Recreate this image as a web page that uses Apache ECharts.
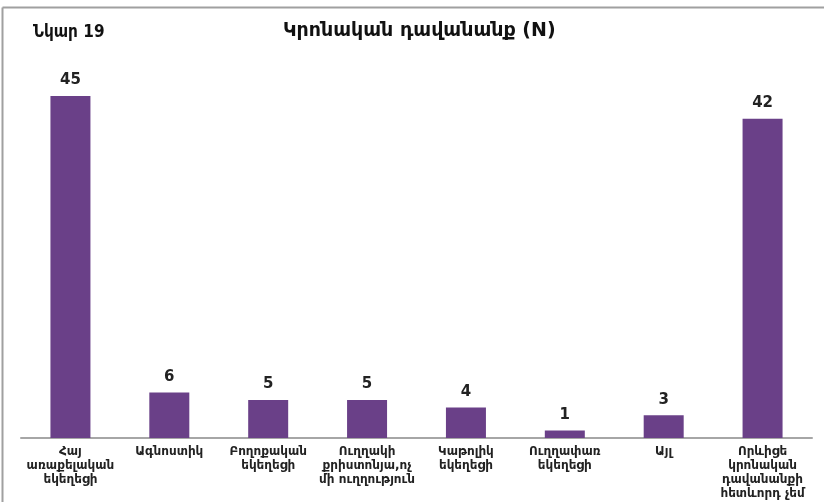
<!DOCTYPE html>
<html><head><meta charset="utf-8">
<script src="https://cdn.jsdelivr.net/npm/echarts@6/dist/echarts.min.js"></script>
<style>html,body{margin:0;padding:0;background:#fff}#c{width:824px;height:502px}</style>
</head><body><div id="c"></div>
<script>
const categories = [
  "Հայ\nառաքելական\nեկեղեցի",
  "Ագնոստիկ",
  "Բողոքական\nեկեղեցի",
  "Ուղղակի\nքրիստոնյա,ոչ\nմի ուղղություն",
  "Կաթոլիկ\nեկեղեցի",
  "Ուղղափառ\nեկեղեցի",
  "Այլ",
  "Որևիցե\nկրոնական\nդավանանքի\nհետևորդ չեմ"
];
const values = [45, 6, 5, 5, 4, 1, 3, 42];
const figureLabel = "Նկար 19";
const chartTitle = "Կրոնական դավանանք (N)";

const fontC = "'DejaVu Sans Condensed', 'DejaVu Sans', sans-serif";
const font = "'DejaVu Sans', sans-serif";
const chart = echarts.init(document.getElementById('c'));
chart.setOption({
  animation: false,
  graphic: [
    {type:'line', shape:{x1:2.5,y1:7.5,x2:824,y2:7.5}, style:{stroke:'#a0a0a0', lineWidth:2}},
    {type:'line', shape:{x1:2.5,y1:7.5,x2:2.5,y2:502}, style:{stroke:'#a0a0a0', lineWidth:2}},
    {type:'text', left:33, top:24, style:{text:figureLabel, font:"bold 17px " + fontC, fill:'#111'}},
    {type:'text', left:283, top:22, style:{text:chartTitle, font:"bold 19px " + font, fill:'#111'}}
  ],
  grid: {left:21, right:12, top:58, bottom:64},
  xAxis: {
    type:'category', data: categories,
    axisLine:{lineStyle:{color:'#a6a6a6', width:2}},
    axisTick:{show:false},
    axisLabel:{interval:0, color:'#222', fontFamily:font, fontWeight:'bold', fontSize:12, lineHeight:14, margin:7}
  },
  yAxis: {type:'value', min:0, max:50, show:false, splitLine:{show:false}},
  series: [{
    type:'bar', data: values, barWidth:40,
    itemStyle:{color:'#6a4088'},
    label:{show:true, position:'top', distance:8, color:'#222', fontFamily:font, fontWeight:'bold', fontSize:15}
  }]
});
</script></body></html>
